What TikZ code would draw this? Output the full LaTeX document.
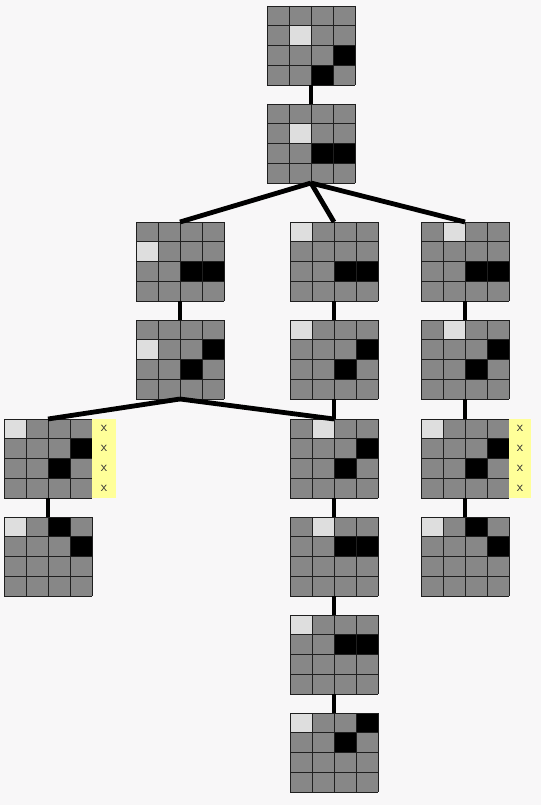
\documentclass[tikz,border=0pt]{standalone}
\usetikzlibrary{positioning}
\definecolor{cfond}{HTML}{F8F7F8}
\definecolor{cgris}{gray}{0.53}
\definecolor{cclair}{gray}{0.87}
\definecolor{cjaune}{HTML}{FFFF99}
\definecolor{cgrille}{gray}{0.12}

\tikzset{
  plateau/.style={minimum width=88pt, minimum height=79pt, inner sep=0pt,
    outer sep=0pt, fill=cgris},
  lien/.style={line width=4.8pt, black},
  marque/.style={fill=cjaune, minimum height=79pt, inner sep=0pt, outer sep=0pt,
    align=center, text=black!80, font=\sffamily\fontsize{14}{19.75}\selectfont},
}

% plateau 4x4 : nom, centre, cases claires, cases noires
\newcommand{\plateau}[4]{%
  \node[plateau] (#1) at (#2) {};
  \begin{scope}[shift={(#1.north west)}]
    \foreach \r/\c in {#3}
      \fill[cclair] ({22*(\c-1)},{19.75*(\r-1)}) rectangle ++(22,19.75);
    \foreach \r/\c in {#4}
      \fill[black] ({22*(\c-1)},{19.75*(\r-1)}) rectangle ++(22,19.75);
    \foreach \i in {0,...,4} {
      \draw[cgrille, line width=0.9pt] ({22*\i},0) -- ++(0,79);
      \draw[cgrille, line width=0.9pt] (0,{19.75*\i}) -- ++(88,0);
    }
  \end{scope}
}

\begin{document}
\begin{tikzpicture}[x=1pt, y=-1pt]
  \useasboundingbox (0,0) rectangle (541,805);
  \fill[cfond] (0,0) rectangle (541,805);

  % racine
  \plateau{G1}{311,45.5}{2/2}{3/4, 4/3}
  \plateau{G2}{311,143.5}{2/2}{3/3, 3/4}

  % trois branches
  \plateau{L1}{180,261.5}{2/1}{3/3, 3/4}
  \plateau{M1}{334,261.5}{1/1}{3/3, 3/4}
  \plateau{R1}{465,261.5}{1/2}{3/3, 3/4}

  \plateau{L2}{180,359.5}{2/1}{2/4, 3/3}
  \plateau{M2}{334,359.5}{1/1}{2/4, 3/3}
  \plateau{R2}{465,359.5}{1/2}{2/4, 3/3}

  \plateau{LL1}{48,458.5}{1/1}{2/4, 3/3}
  \plateau{M3}{334,458.5}{1/2}{2/4, 3/3}
  \plateau{R3}{465,458.5}{1/1}{2/4, 3/3}

  \plateau{LL2}{48,556.5}{1/1}{1/3, 2/4}
  \plateau{M4}{334,556.5}{1/2}{2/3, 2/4}
  \plateau{R4}{465,556.5}{1/1}{1/3, 2/4}

  \plateau{M5}{334,654.5}{1/1}{2/3, 2/4}
  \plateau{M6}{334,752.5}{1/1}{1/4, 2/3}

  % marques jaunes
  \node[marque, minimum width=24pt, right=0pt of LL1] (mqG) {x\\x\\x\\x};
  \node[marque, minimum width=22pt, right=0pt of R3] (mqD) {x\\x\\x\\x};

  % liens
  \draw[lien] (G1.south) -- (G2.north);
  \draw[lien] (G2.south) -- (L1.north);
  \draw[lien] (G2.south) -- (M1.north);
  \draw[lien] (G2.south) -- (R1.north);
  \draw[lien] (L1.south) -- (L2.north);
  \draw[lien] (M1.south) -- (M2.north);
  \draw[lien] (R1.south) -- (R2.north);
  \draw[lien] (L2.south) -- (LL1.north);
  \draw[lien] (L2.south) -- (M3.north);
  \draw[lien] (M2.south) -- (M3.north);
  \draw[lien] (R2.south) -- (R3.north);
  \draw[lien] (LL1.south) -- (LL2.north);
  \draw[lien] (M3.south) -- (M4.north);
  \draw[lien] (R3.south) -- (R4.north);
  \draw[lien] (M4.south) -- (M5.north);
  \draw[lien] (M5.south) -- (M6.north);
\end{tikzpicture}
\end{document}
